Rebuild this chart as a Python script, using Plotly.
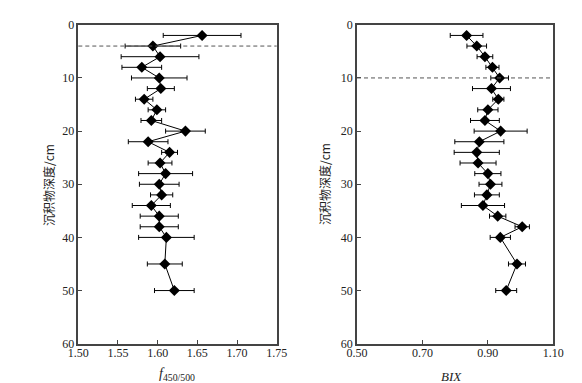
import plotly.graph_objects as go

depth = [2, 4, 6, 8, 10, 12, 14, 16, 18, 20, 22, 24, 26, 28, 30, 32, 34, 36, 38, 40, 45, 50]

f450 = [1.656, 1.594, 1.603, 1.580, 1.602, 1.604, 1.583, 1.599, 1.592, 1.635, 1.588, 1.615,
        1.603, 1.610, 1.602, 1.605, 1.592, 1.602, 1.602, 1.611, 1.609, 1.621]
f450_err = [0.049, 0.035, 0.049, 0.025, 0.035, 0.017, 0.011, 0.011, 0.013, 0.025, 0.025, 0.010,
            0.015, 0.034, 0.025, 0.014, 0.024, 0.024, 0.024, 0.035, 0.022, 0.025]

bix = [0.835, 0.866, 0.891, 0.914, 0.936, 0.911, 0.932, 0.900, 0.891, 0.939, 0.874, 0.866,
       0.870, 0.900, 0.908, 0.897, 0.885, 0.930, 1.005, 0.938, 0.989, 0.956]
bix_err = [0.050, 0.030, 0.024, 0.020, 0.027, 0.058, 0.017, 0.031, 0.044, 0.081, 0.075, 0.069,
           0.055, 0.040, 0.035, 0.038, 0.066, 0.025, 0.022, 0.031, 0.026, 0.032]

f_ticks = [1.50, 1.55, 1.60, 1.65, 1.70, 1.75]
bix_ticks = [0.50, 0.70, 0.90, 1.10]
depth_ticks = [0, 10, 20, 30, 40, 50, 60]

f_boundary = 4
bix_boundary = 10

y_title = "沉积物深度/cm"
f_title = "<i>f</i><sub>450/500</sub>"
bix_title = "<i>BIX</i>"

W, H = 582, 383
serif = "Liberation Serif"
cjk = "Noto Sans CJK SC"
axcol = "#444444"
txtcol = "#222222"

fig = go.Figure()

def add_series(x, err, xa, ya):
    fig.add_trace(go.Scatter(
        x=x, y=depth, xaxis=xa, yaxis=ya, mode="lines+markers",
        line=dict(color="black", width=1),
        marker=dict(symbol="diamond", size=8.5, color="black"),
        error_x=dict(type="data", array=err, visible=True, color="black",
                     thickness=1, width=2.5),
        showlegend=False, cliponaxis=False))

add_series(f450, f450_err, "x", "y")
add_series(bix, bix_err, "x2", "y2")

ytop = 1 - 16.8 / H
ybot = 1 - 335.7 / H

common_x = dict(showgrid=False, zeroline=False, showline=True, linecolor=axcol,
                linewidth=1.5, mirror=True, ticks="inside", ticklen=4, tickcolor=axcol,
                tickfont=dict(family=serif, size=12, color=txtcol), automargin=False,
                ticklabelstandoff=-3)
common_y = dict(showgrid=False, zeroline=False, showline=True, linecolor=axcol,
                linewidth=1.5, mirror=True, ticks="inside", ticklen=4, tickcolor=axcol,
                tickfont=dict(family=serif, size=12, color=txtcol), automargin=False,
                range=[60, 0], tickvals=depth_ticks)

fig.update_layout(
    width=W, height=H, margin=dict(l=0, r=0, t=0, b=0),
    plot_bgcolor="white", paper_bgcolor="white",
    xaxis=dict(domain=[70.3 / W, 268.7 / W], range=[1.5, 1.75], tickvals=f_ticks,
               ticktext=[f"{v:.2f}" for v in f_ticks], anchor="y", **common_x),
    yaxis=dict(domain=[ybot, ytop], anchor="x", **common_y),
    xaxis2=dict(domain=[349 / W, 545.3 / W], range=[0.5, 1.1], tickvals=bix_ticks,
                ticktext=[f"{v:.2f}" for v in bix_ticks], anchor="y2", **common_x),
    yaxis2=dict(domain=[ybot, ytop], anchor="x2", **common_y),
)

# axis titles
fig.add_annotation(x=40 / W, y=1 - 177 / H, xref="paper", yref="paper", text=y_title,
                   textangle=-90, showarrow=False, xanchor="center", yanchor="middle",
                   font=dict(family=cjk, size=12, color=txtcol))
fig.add_annotation(x=316 / W, y=1 - 176 / H, xref="paper", yref="paper", text=y_title,
                   textangle=-90, showarrow=False, xanchor="center", yanchor="middle",
                   font=dict(family=cjk, size=12, color=txtcol))
fig.add_annotation(x=169 / W, y=1 - 366 / H, xref="paper", yref="paper", text=f_title,
                   showarrow=False, xanchor="center", yanchor="middle",
                   font=dict(family=serif, size=14, color=txtcol))
fig.add_annotation(x=443 / W, y=1 - 368 / H, xref="paper", yref="paper", text=bix_title,
                   showarrow=False, xanchor="center", yanchor="middle",
                   font=dict(family=serif, size=13, color=txtcol))

fig.add_shape(type="line", xref="x domain", yref="y", x0=0, x1=1,
              y0=f_boundary, y1=f_boundary,
              line=dict(color="#555555", width=1, dash="4px,3px"))
fig.add_shape(type="line", xref="x2 domain", yref="y2", x0=0, x1=1,
              y0=bix_boundary, y1=bix_boundary,
              line=dict(color="#555555", width=1, dash="4px,3px"))

fig.write_html("out.html")
